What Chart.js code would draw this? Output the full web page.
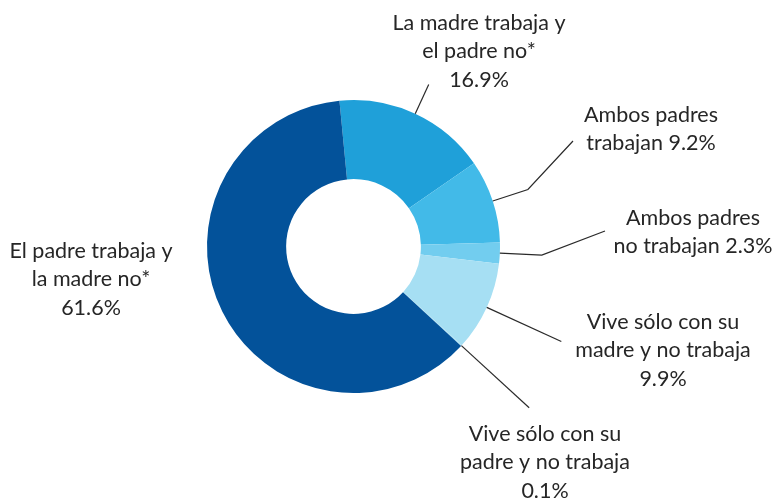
<!DOCTYPE html>
<html>
<head>
<meta charset="utf-8">
<script src="https://cdn.jsdelivr.net/npm/chart.js@4"></script>
<style>
html,body{margin:0;padding:0;background:#fff;}
#wrap{width:773px;height:499px;position:relative;}
</style>
</head>
<body>
<div id="wrap"><canvas id="c" width="773" height="499"></canvas></div>
<script>
// ---- data ----
const categories = [
  "La madre trabaja y el padre no*",
  "Ambos padres trabajan",
  "Ambos padres no trabajan",
  "Vive sólo con su madre y no trabaja",
  "Vive sólo con su padre y no trabaja",
  "El padre trabaja y la madre no*"
];
const values = [16.9, 9.2, 2.3, 9.9, 0.1, 61.6];
const labelLines = [
  ["La madre trabaja y", "el padre no*", "16.9%"],
  ["Ambos padres", "trabajan 9.2%"],
  ["Ambos padres", "no trabajan 2.3%"],
  ["Vive sólo con su", "madre y no trabaja", "9.9%"],
  ["Vive sólo con su", "padre y no trabaja", "0.1%"],
  ["El padre trabaja y", "la madre no*", "61.6%"]
];

// ---- styles / layout ----
const colors = ["#1FA0D9", "#42BAE8", "#72CDEF", "#A6DFF3", "#A6DFF3", "#03529A"];
// label block: center x, first line center y
const labelPos = [
  {x: 479, y: 23},
  {x: 651, y: 115},
  {x: 693, y: 218},
  {x: 663, y: 322},
  {x: 545, y: 434},
  {x: 91,  y: 251}
];
// leader: radial length, then optional end point
const leaders = [
  {radial: 32, end: null},
  {radial: 37, end: {x: 573, y: 141}},
  {radial: 42, end: {x: 605, y: 231}},
  {radial: 82, end: null},
  {radial: 92, end: null},
  null
];
const lineGap = 28.5;
const FONT = '21.5px Lato';

const labelPlugin = {
  id: 'labels',
  afterDraw(chart) {
    const ctx = chart.ctx;
    const arcs = chart.getDatasetMeta(0).data;
    ctx.save();
    ctx.strokeStyle = '#2a2a2a';
    ctx.lineWidth = 1.2;
    arcs.forEach((arc, i) => {
      const L = leaders[i];
      if (!L) return;
      const p = arc.getProps(['x','y','startAngle','endAngle','outerRadius'], true);
      const mid = (p.startAngle + p.endAngle) / 2;
      const x0 = p.x + Math.cos(mid) * p.outerRadius;
      const y0 = p.y + Math.sin(mid) * p.outerRadius;
      const x1 = p.x + Math.cos(mid) * (p.outerRadius + L.radial);
      const y1 = p.y + Math.sin(mid) * (p.outerRadius + L.radial);
      ctx.beginPath();
      ctx.moveTo(x0, y0);
      ctx.lineTo(x1, y1);
      if (L.end) ctx.lineTo(L.end.x, L.end.y);
      ctx.stroke();
    });
    ctx.fillStyle = '#262626';
    ctx.font = FONT;
    ctx.textAlign = 'center';
    ctx.textBaseline = 'middle';
    labelLines.forEach((lines, i) => {
      const pos = labelPos[i];
      lines.forEach((t, k) => ctx.fillText(t, pos.x, pos.y + k * lineGap));
    });
    ctx.restore();
  }
};

new Chart(document.getElementById('c'), {
  type: 'doughnut',
  data: {
    labels: categories,
    datasets: [{
      data: values,
      backgroundColor: colors,
      borderWidth: 0,
      hoverOffset: 0
    }]
  },
  options: {
    responsive: false,
    animation: false,
    rotation: -5.5,
    cutout: '46%',
    layout: {padding: {left: 207, right: 273, top: 100, bottom: 106}},
    plugins: {legend: {display: false}, tooltip: {enabled: false}}
  },
  plugins: [labelPlugin]
});
</script>
</body>
</html>
